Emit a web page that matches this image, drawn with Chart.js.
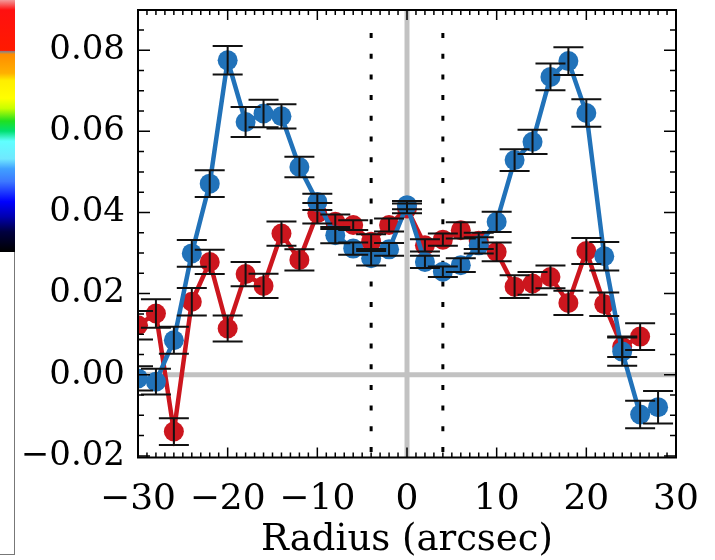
<!DOCTYPE html>
<html>
<head>
<meta charset="utf-8">
<script src="https://cdn.jsdelivr.net/npm/chart.js@4.4.1/dist/chart.umd.min.js"></script>
<style>
  html, body { margin: 0; padding: 0; background: #fff; }
  #wrap { position: relative; width: 715px; height: 560px; }
  #bar { position: absolute; left: 0; top: 0; width: 15px; height: 252px;
    background: linear-gradient(to bottom, #f39a9a 0%, #ff1010 4%, #ff1a00 20%, #888 20.5%, #ff8c00 21.5%, #ffb000 29%, #ffee00 32%, #ffff00 39%, #c8ff00 43%, #20e020 48%, #00e070 52%, #60ffff 56%, #70e8ff 63%, #40a0ff 67%, #3c78ff 72%, #0000ff 80%, #0000b0 86%, #000040 92%, #000 100%); }
  #box { position: absolute; left: 0; top: 0; width: 15px; height: 555px;
    border-right: 1.5px solid #777; border-bottom: 1.5px solid #777; box-sizing: border-box; }
  canvas { position: absolute; left: 0; top: 0; }
</style>
</head>
<body>
<div id="wrap">
  <div id="box"></div>
  <div id="bar"></div>
  <canvas id="profileChart" width="715" height="560"></canvas>
</div>
<script>
const ctx = document.getElementById('profileChart').getContext('2d');

// 軸の目盛り
const xTicks = [-30, -20, -10, 0, 10, 20, 30];
const yTicks = [-0.02, 0, 0.02, 0.04, 0.06, 0.08];
const markerX = [-4, 4];

// 青い系列
const blueRadius = [-30, -28, -26, -24, -22, -20, -18, -16, -14, -12, -10, -8, -6, -4, -2,
                    0, 2, 4, 6, 8, 10, 12, 14, 16, 18, 20, 22, 24, 26, 28];
const blueValues = [-0.0009, -0.0017, 0.0085, 0.0299, 0.0471, 0.0775, 0.0623, 0.0644, 0.0637, 0.0512,
                    0.0426, 0.0344, 0.0311, 0.0287, 0.0309, 0.0418, 0.0278, 0.0254, 0.0270, 0.0319,
                    0.0377, 0.0529, 0.0574, 0.0734, 0.0773, 0.0645, 0.0292, 0.0057, -0.0098, -0.0080];
const blueErrors = [0.0030, 0.0032, 0.0033, 0.0033, 0.0033, 0.0035, 0.0037, 0.0034, 0.0030, 0.0025,
                    0.0020, 0.0020, 0.0015, 0.0018, 0.0016, 0.0010, 0.0015, 0.0013, 0.0017, 0.0020,
                    0.0025, 0.0027, 0.0030, 0.0033, 0.0034, 0.0034, 0.0035, 0.0035, 0.0034, 0.0040];

// 赤い系列
const redRadius = [-30, -28, -26, -24, -22, -20, -18, -16, -14, -12, -10, -8, -6, -4, -2,
                   0, 2, 4, 6, 8, 10, 12, 14, 16, 18, 20, 22, 24, 26];
const redValues = [0.0122, 0.0151, -0.0140, 0.0180, 0.0278, 0.0114, 0.0248, 0.0219, 0.0348, 0.0283,
                   0.0398, 0.0377, 0.0369, 0.0328, 0.0369, 0.0410, 0.0319, 0.0333, 0.0356, 0.0330,
                   0.0303, 0.0217, 0.0225, 0.0241, 0.0177, 0.0305, 0.0174, 0.0069, 0.0094];
const redErrors = [0.0035, 0.0035, 0.0033, 0.0034, 0.0030, 0.0032, 0.0030, 0.0030, 0.0030, 0.0026,
                   0.0025, 0.0018, 0.0012, 0.0018, 0.0016, 0.0012, 0.0015, 0.0015, 0.0020, 0.0020,
                   0.0023, 0.0028, 0.0028, 0.0028, 0.0030, 0.0032, 0.0029, 0.0025, 0.0033];

const errorSets = [blueErrors, redErrors];
const fontFamily = '"DejaVu Serif", serif';

function minus(s) {
    return s.replace('-', '\u2212');
}

// 枠・補助線・誤差棒を描くプラグイン
const decorPlugin = {
    id: 'decor',
    beforeDatasetsDraw(chart) {
        const { ctx, chartArea: a, scales: { x, y } } = chart;
        ctx.save();
        ctx.beginPath();
        ctx.rect(a.left, a.top, a.width, a.height);
        ctx.clip();
        // x=0, y=0 の灰色線
        ctx.strokeStyle = '#c2c2c2';
        ctx.lineWidth = 5;
        ctx.beginPath();
        ctx.moveTo(x.getPixelForValue(0), a.top);
        ctx.lineTo(x.getPixelForValue(0), a.bottom);
        ctx.moveTo(a.left, y.getPixelForValue(0));
        ctx.lineTo(a.right, y.getPixelForValue(0));
        ctx.stroke();
        // 点線
        ctx.strokeStyle = '#000';
        ctx.lineWidth = 3;
        ctx.setLineDash([5, 15.7]);
        markerX.forEach(v => {
            const px = x.getPixelForValue(v);
            ctx.beginPath();
            ctx.moveTo(px, a.top + 23);
            ctx.lineTo(px, a.bottom);
            ctx.stroke();
        });
        ctx.restore();
    },
    afterDatasetsDraw(chart) {
        const { ctx, chartArea: a, scales: { x, y } } = chart;
        ctx.save();
        ctx.beginPath();
        ctx.rect(a.left, a.top, a.width, a.height);
        ctx.clip();
        ctx.strokeStyle = '#111';
        ctx.lineWidth = 2;
        // 誤差棒
        chart.data.datasets.forEach((ds, i) => {
            const errs = errorSets[i];
            ds.data.forEach((p, j) => {
                const px = x.getPixelForValue(p.x);
                const top = y.getPixelForValue(p.y + errs[j]);
                const bot = y.getPixelForValue(p.y - errs[j]);
                ctx.beginPath();
                ctx.moveTo(px, top);
                ctx.lineTo(px, bot);
                ctx.moveTo(px - 15, top);
                ctx.lineTo(px + 15, top);
                ctx.moveTo(px - 15, bot);
                ctx.lineTo(px + 15, bot);
                ctx.stroke();
            });
        });
        ctx.restore();

        // 枠と内向きの目盛り
        ctx.save();
        ctx.strokeStyle = '#000';
        ctx.lineWidth = 2;
        ctx.strokeRect(a.left, a.top, a.width, a.height);
        ctx.lineWidth = 1.5;
        ctx.beginPath();
        for (let v = -30; v <= 30; v += 1) {
            const px = x.getPixelForValue(v);
            const len = xTicks.includes(v) ? 10 : 5;
            ctx.moveTo(px, a.bottom);
            ctx.lineTo(px, a.bottom - len);
            ctx.moveTo(px, a.top);
            ctx.lineTo(px, a.top + len);
        }
        for (let k = -4; k <= 17; k++) {
            const v = k * 0.005;
            const py = y.getPixelForValue(v);
            const len = (k % 4 === 0) ? 12 : 6;
            ctx.moveTo(a.left, py);
            ctx.lineTo(a.left + len, py);
            ctx.moveTo(a.right, py);
            ctx.lineTo(a.right - len, py);
        }
        ctx.stroke();
        ctx.restore();
    }
};

function toPoints(xs, ys) {
    return xs.map((v, i) => ({ x: v, y: ys[i] }));
}

function noPad(s) {
    s.paddingTop = 0;
    s.paddingBottom = 0;
    s.paddingLeft = 0;
    s.paddingRight = 0;
}

const chart = new Chart(ctx, {
    type: 'line',
    data: {
        datasets: [{
            label: 'blue',
            data: toPoints(blueRadius, blueValues),
            borderColor: 'rgb(33, 114, 185)',
            backgroundColor: 'rgb(33, 114, 185)',
            borderWidth: 4.5,
            pointRadius: 10,
            pointBorderWidth: 0,
            clip: 0,
        }, {
            label: 'red',
            data: toPoints(redRadius, redValues),
            borderColor: 'rgb(204, 22, 30)',
            backgroundColor: 'rgb(204, 22, 30)',
            borderWidth: 4.5,
            pointRadius: 10,
            pointBorderWidth: 0,
            clip: 0,
        }]
    },
    options: {
        responsive: false,
        animation: false,
        events: [],
        layout: { padding: { left: 0, top: 10, right: 39, bottom: 0 } },
        plugins: { legend: { display: false }, tooltip: { enabled: false } },
        scales: {
            x: {
                type: 'linear',
                min: -30,
                max: 30,
                afterBuildTicks: s => { s.ticks = xTicks.map(v => ({ value: v })); },
                afterFit: s => { s.height = 102.5; noPad(s); },
                grid: { display: false, drawTicks: false },
                border: { display: false },
                ticks: {
                    padding: 21,
                    color: '#000',
                    font: { family: fontFamily, size: 36 },
                    maxRotation: 0,
                    callback: v => minus(String(v))
                },
                title: {
                    display: true,
                    text: 'Radius (arcsec)',
                    color: '#000',
                    font: { family: fontFamily, size: 37, lineHeight: 1.0 },
                    padding: { top: 0, bottom: 1 }
                }
            },
            y: {
                type: 'linear',
                min: -0.0204,
                max: 0.0899,
                afterBuildTicks: s => { s.ticks = yTicks.map(v => ({ value: v })); },
                afterFit: s => { s.width = 138; noPad(s); },
                grid: { display: false, drawTicks: false },
                border: { display: false },
                ticks: {
                    padding: 13,
                    color: '#000',
                    font: { family: fontFamily, size: 34 },
                    callback: v => minus(v.toFixed(2))
                }
            }
        }
    },
    plugins: [decorPlugin]
});
</script>
</body>
</html>
